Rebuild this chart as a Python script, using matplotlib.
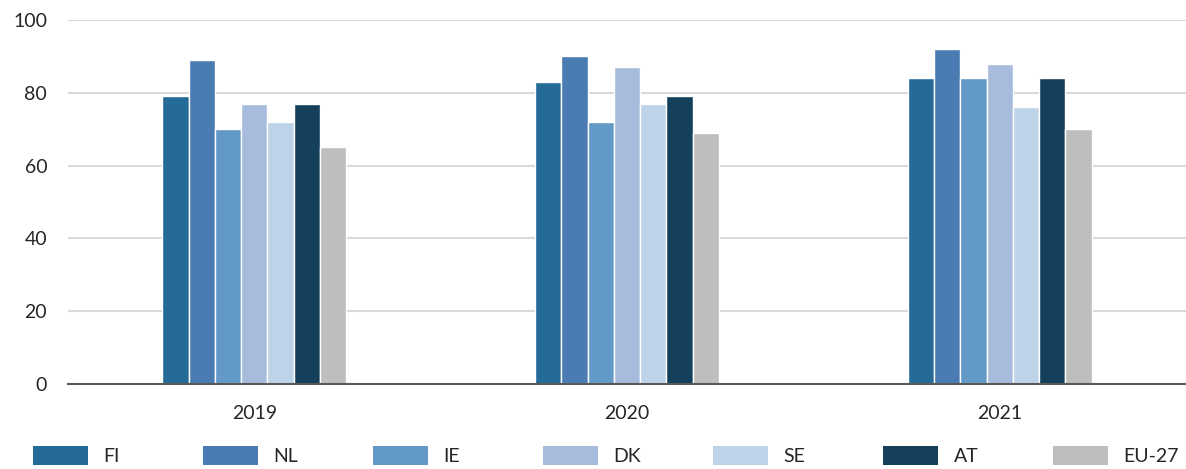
import matplotlib
matplotlib.use("Agg")
import matplotlib.pyplot as plt
import numpy as np
from matplotlib.patches import Patch

years = ["2019", "2020", "2021"]
countries = ["FI", "NL", "IE", "DK", "SE", "AT", "EU-27"]
values = {
    "FI":    [79, 83, 84],
    "NL":    [89, 90, 92],
    "IE":    [70, 72, 84],
    "DK":    [77, 87, 88],
    "SE":    [72, 77, 76],
    "AT":    [77, 79, 84],
    "EU-27": [65, 69, 70],
}
colors = ["#256b98", "#4a7cb3", "#6399c6", "#a7bbdc", "#bdd3e7", "#15405b", "#bebebc"]
y_ticks = [0, 20, 40, 60, 80, 100]

plt.rcParams["font.family"] = ["Lato", "DejaVu Sans"]

fig = plt.figure(figsize=(11.86, 4.69), dpi=100)
ax = fig.add_axes([68 / 1186, 1 - 384 / 469, 1 - 68 / 1186, (384 - 20) / 469])

x = np.arange(len(years))
width = 0.0706
for i, (c, col) in enumerate(zip(countries, colors)):
    ax.bar(x + (i - 3) * width, values[c], width, color=col,
           edgecolor="white", linewidth=1.0, zorder=3)

ax.set_xlim(-0.5, 2.5)
ax.set_ylim(0, 100)
ax.set_yticks(y_ticks)
ax.set_xticks(x)
ax.set_xticklabels(years)
ax.grid(axis="y", color="#d9d9d9", linewidth=1.5, zorder=0)
for s in ["left", "right", "top"]:
    ax.spines[s].set_visible(False)
ax.spines["bottom"].set_color("#595959")
ax.spines["bottom"].set_linewidth(1.5)
ax.spines["bottom"].set_zorder(4)
ax.tick_params(axis="both", length=0, labelsize=14, colors="#262626")
ax.tick_params(axis="y", pad=15)
ax.tick_params(axis="x", pad=15)

# legend entries spaced evenly along the bottom
for i, (c, col) in enumerate(zip(countries, colors)):
    x0 = (33 + i * 170) / 1186
    fig.legend(handles=[Patch(facecolor=col, edgecolor="none")], labels=[c],
               loc="center left", bbox_to_anchor=(x0, 1 - 455.5 / 469),
               frameon=False, fontsize=14, handlelength=2.83, handleheight=1.2,
               handletextpad=0.8, borderpad=0, borderaxespad=0,
               labelcolor="#262626")

fig.savefig("out.png", dpi=100)
